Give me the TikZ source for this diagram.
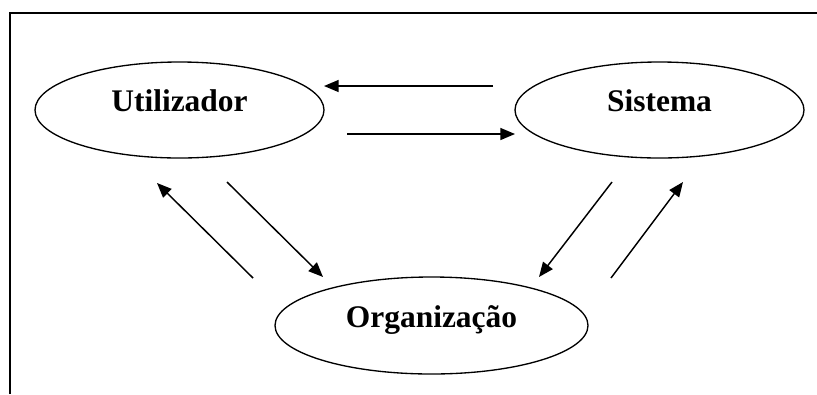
\documentclass[tikz,border=0pt]{standalone}
\usepackage{fontspec}
\setmainfont{Liberation Serif}
\usetikzlibrary{shapes.geometric,arrows.meta}
\tikzstyle{eactor}=[ellipse, draw, line width=1pt, inner sep=0pt, minimum width=216.75pt, minimum height=72pt, text height=0.7em, text depth=0.45em, font=\fontsize{23.6}{28}\selectfont\bfseries]
\tikzstyle{flow}=[line width=1.1pt, -{Triangle[length=11pt,width=9pt]}]

\begin{document}
\begin{tikzpicture}[x=0.75pt, y=-0.75pt]
\useasboundingbox (0,0) rectangle (817,394);

% frame
\draw[line width=1.5pt] (10,394) -- (10,12.5) -- (817,12.5);

\node[eactor] (util) at (179.5,110) {Utilizador};
\node[eactor] (sist) at (659.5,110) {Sistema};
\node[eactor, minimum width=234.75pt, minimum height=72.75pt] (org) at (431.5,325.5) {Organização};

% arrow ends
\coordinate (su1) at (493,86);
\coordinate (su2) at (324,86);
\coordinate (us1) at (347,134);
\coordinate (us2) at (515,134);
\coordinate (ou1) at (253,278);
\coordinate (ou2) at (157,183);
\coordinate (uo1) at (227,182);
\coordinate (uo2) at (323,277);
\coordinate (so1) at (612,182);
\coordinate (so2) at (539,277);
\coordinate (os1) at (611,278);
\coordinate (os2) at (683,182);

\draw[flow] (su1) -- (su2);
\draw[flow] (us1) -- (us2);
\draw[flow] (ou1) -- (ou2);
\draw[flow] (uo1) -- (uo2);
\draw[flow] (so1) -- (so2);
\draw[flow] (os1) -- (os2);

\end{tikzpicture}
\end{document}
